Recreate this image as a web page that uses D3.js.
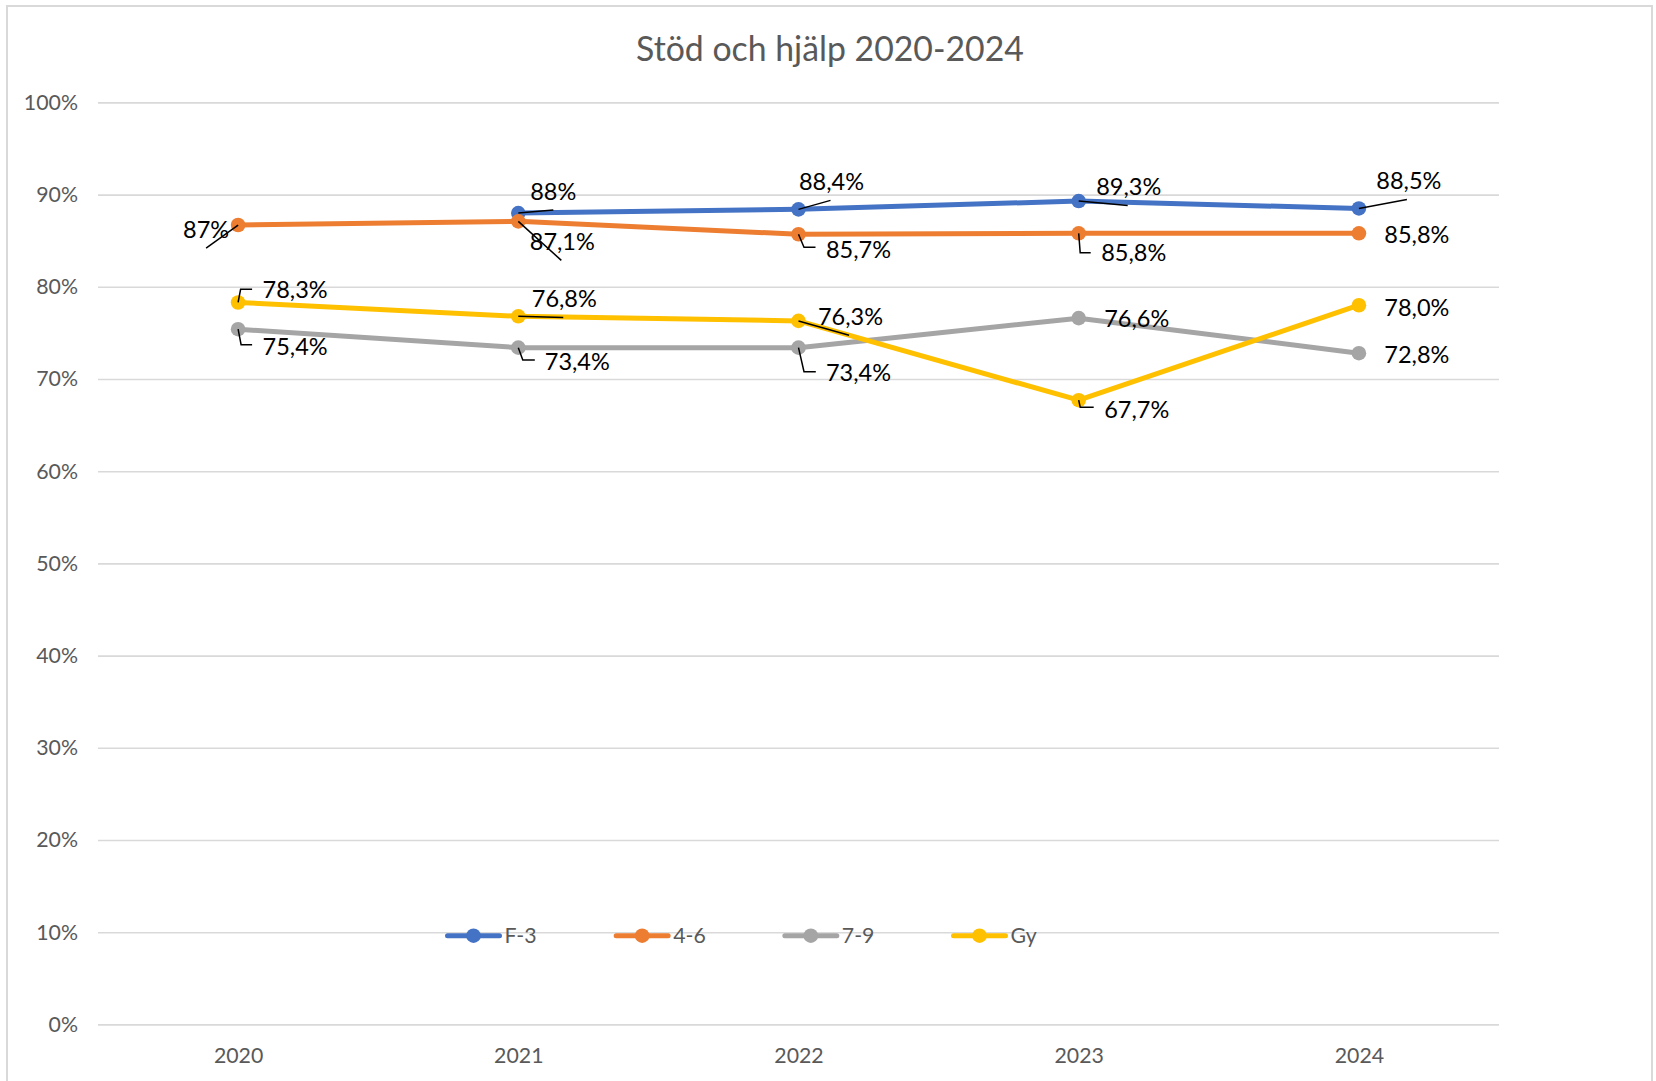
<!DOCTYPE html>
<html>
<head>
<meta charset="utf-8">
<script src="https://cdn.jsdelivr.net/npm/d3@7"></script>
<style>
  body { margin: 0; background: #fff; }
  svg { display: block; }
</style>
</head>
<body>
<svg id="grafico"></svg>
<script>
// datos del diagrama
const years = ["2020", "2021", "2022", "2023", "2024"];
const seriesNames = ["F-3", "4-6", "7-9", "Gy"];
const valuesF3 = [null, 88.0, 88.4, 89.3, 88.5];
const values46 = [86.7, 87.1, 85.7, 85.8, 85.8];
const values79 = [75.4, 73.4, 73.4, 76.6, 72.8];
const valuesGy = [78.3, 76.8, 76.3, 67.7, 78.0];
const labelsF3 = [null, "88%", "88,4%", "89,3%", "88,5%"];
const labels46 = ["87%", "87,1%", "85,7%", "85,8%", "85,8%"];
const labels79 = ["75,4%", "73,4%", "73,4%", "76,6%", "72,8%"];
const labelsGy = ["78,3%", "76,8%", "76,3%", "67,7%", "78,0%"];
const yTicks = [0, 10, 20, 30, 40, 50, 60, 70, 80, 90, 100];

// colocación de las etiquetas (desplazamiento respecto al punto) y sus líneas guía
const layoutF3 = [null,
  { dx: 35, dy: -22, lead: [[0, 0], [35, -3]] },
  { dx: 33, dy: -28, lead: [[0, 0], [32, -9]] },
  { dx: 50, dy: -15, lead: [[0, 0], [49, 4.5]] },
  { dx: 50, dy: -28, lead: [[0, 0], [48, -9]] }];
const layout46 = [
  { dx: -32, dy: 5, lead: [[0, 0], [-32, 23]] },
  { dx: 44, dy: 20, lead: [[0, 0], [43, 39]] },
  { dx: 60, dy: 15, lead: [[0, 0], [5.5, 13], [17, 13]] },
  { dx: 55, dy: 19.5, lead: [[0, 0], [1.5, 19.4], [12, 19.4]] },
  { dx: 58, dy: 1.7, lead: null }];
const layout79 = [
  { dx: 57, dy: 17.5, lead: [[0, 0], [3, 15.5], [14, 15.5]] },
  { dx: 59, dy: 14, lead: [[0, 0], [4.5, 12.3], [16.5, 12.3]] },
  { dx: 60, dy: 25, lead: [[0, 0], [5.5, 24], [17.3, 24]] },
  { dx: 58, dy: 0.7, lead: null },
  { dx: 58, dy: 1.8, lead: null }];
const layoutGy = [
  { dx: 57, dy: -13, lead: [[0, 0], [2.5, -13.2], [14, -13.2]] },
  { dx: 46, dy: -17.7, lead: [[0, 0], [45, 1.2]] },
  { dx: 52, dy: -4.4, lead: [[0, 0], [50.6, 14.4]] },
  { dx: 58, dy: 9.5, lead: [[0, 0], [1.5, 7], [15, 7]] },
  { dx: 58, dy: 2.3, lead: null }];

const colors = ["#4472C4", "#ED7D31", "#A5A5A5", "#FFC000"];

const series = [
  { name: seriesNames[0], values: valuesF3, labels: labelsF3, layout: layoutF3, color: colors[0] },
  { name: seriesNames[1], values: values46, labels: labels46, layout: layout46, color: colors[1] },
  { name: seriesNames[2], values: values79, labels: labels79, layout: layout79, color: colors[2] },
  { name: seriesNames[3], values: valuesGy, labels: labelsGy, layout: layoutGy, color: colors[3] }
];

const WIDTH = 1656;
const HEIGHT = 1081;
const plot = { left: 98, right: 1499, top: 102.4, bottom: 1024.4 };
const FONT = "Lato, 'Open Sans', sans-serif";
const GRIS = "#595959";

const svg = d3.select("#grafico")
  .attr("width", WIDTH)
  .attr("height", HEIGHT)
  .style("font-family", FONT);

// marco del gráfico
svg.append("rect")
  .attr("x", 7).attr("y", 6)
  .attr("width", 1645).attr("height", 1100)
  .attr("fill", "#fff")
  .attr("stroke", "#D9D9D9")
  .attr("stroke-width", 2);

const x = d3.scalePoint().domain(years).range([plot.left, plot.right]).padding(0.5);
const y = d3.scaleLinear().domain([0, 100]).range([plot.bottom, plot.top]);

// título
svg.append("text")
  .attr("x", 830).attr("y", 48.6)
  .attr("dy", "0.36em")
  .attr("text-anchor", "middle")
  .attr("fill", GRIS)
  .attr("font-size", 33.8)
  .text("Stöd och hjälp 2020-2024");

// eje Y con líneas de cuadrícula
const ejeY = svg.append("g")
  .attr("transform", `translate(${plot.left},0)`)
  .call(d3.axisLeft(y)
    .tickValues(yTicks)
    .tickSize(-(plot.right - plot.left))
    .tickPadding(20)
    .tickFormat(d => d + "%"));
ejeY.select(".domain").remove();
ejeY.selectAll("line").attr("stroke", "#D9D9D9").attr("stroke-width", 1.6);
ejeY.selectAll("text").attr("fill", GRIS).attr("font-size", 21.3).style("font-family", FONT);

// eje X
const ejeX = svg.append("g")
  .attr("transform", `translate(0,${plot.bottom})`)
  .call(d3.axisBottom(x).tickSize(0).tickPadding(23));
ejeX.select(".domain").remove();
ejeX.selectAll("text").attr("fill", GRIS).attr("font-size", 21.3).style("font-family", FONT);

// líneas
const linea = d3.line()
  .defined(d => d.v != null)
  .x(d => x(d.year))
  .y(d => y(d.v));

const puntos = s => s.values.map((v, i) => ({ year: years[i], v: v, label: s.labels[i], lay: s.layout[i] }))
  .filter(d => d.v != null);

series.forEach(s => {
  const g = svg.append("g").attr("class", "serie");
  g.append("path")
    .datum(puntos(s))
    .attr("d", linea)
    .attr("fill", "none")
    .attr("stroke", s.color)
    .attr("stroke-width", 5)
    .attr("stroke-linejoin", "round")
    .attr("stroke-linecap", "round");
  g.selectAll("circle")
    .data(puntos(s))
    .join("circle")
    .attr("cx", d => x(d.year))
    .attr("cy", d => y(d.v))
    .attr("r", 7.3)
    .attr("fill", s.color);
});

// etiquetas de datos con líneas guía
const etiquetas = svg.append("g");
series.forEach(s => {
  puntos(s).forEach(d => {
    const px = x(d.year), py = y(d.v);
    if (d.lay.lead) {
      etiquetas.append("path")
        .attr("d", d3.line()(d.lay.lead.map(p => [px + p[0], py + p[1]])))
        .attr("fill", "none")
        .attr("stroke", "#000")
        .attr("stroke-width", 1.5);
    }
    etiquetas.append("text")
      .attr("x", px + d.lay.dx)
      .attr("y", py + d.lay.dy)
      .attr("dy", "0.36em")
      .attr("text-anchor", "middle")
      .attr("font-size", 23.5)
      .attr("fill", "#000")
      .text(d.label);
  });
});

// leyenda
const leyX = d3.scalePoint().domain(seriesNames).range([473.5, 979.5]);
const leyenda = svg.append("g").attr("transform", "translate(0,935.7)");
const item = leyenda.selectAll("g")
  .data(series)
  .join("g")
  .attr("transform", d => `translate(${leyX(d.name)},0)`);
item.append("line")
  .attr("x1", -26).attr("x2", 26)
  .attr("stroke", d => d.color)
  .attr("stroke-width", 5)
  .attr("stroke-linecap", "round");
item.append("circle")
  .attr("r", 7.3)
  .attr("fill", d => d.color);
item.append("text")
  .attr("x", 31)
  .attr("dy", "0.36em")
  .attr("fill", GRIS)
  .attr("font-size", 21.3)
  .text(d => d.name);
</script>
</body>
</html>
